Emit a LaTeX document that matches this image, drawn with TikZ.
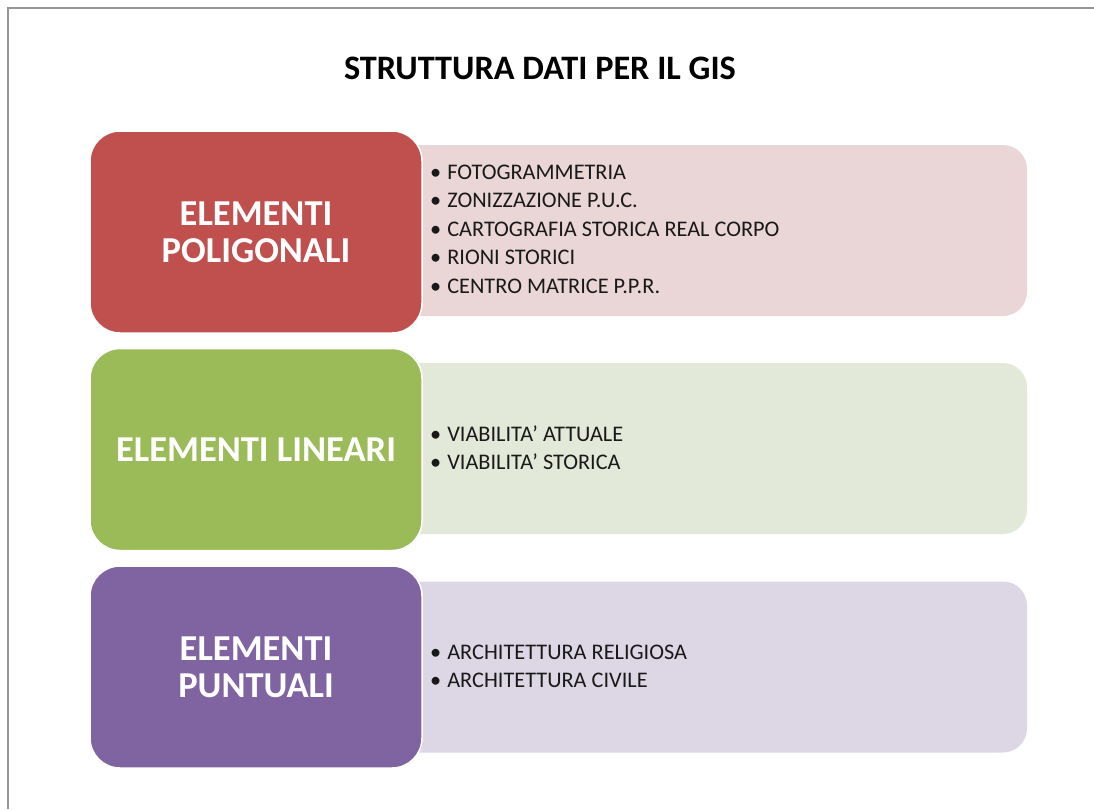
\documentclass[tikz,border=0pt]{standalone}
\usepackage{fontspec}
\setmainfont{Carlito}
\definecolor{rossoGis}{HTML}{C0504D}
\definecolor{verdeGis}{HTML}{9BBB59}
\definecolor{violaGis}{HTML}{8064A2}
\definecolor{rosaChiaro}{RGB}{234,214,214}
\definecolor{verdeChiaro}{RGB}{227,233,217}
\definecolor{violaChiaro}{RGB}{221,215,229}
\definecolor{cornice}{RGB}{150,150,150}

\begin{document}
\begin{tikzpicture}[x=1pt, y=-1pt,
	categoria/.style={fill=#1, draw=white, line width=1.5pt, rounded corners=30pt,
		minimum width=332pt, minimum height=202pt, inner sep=0pt,
		text=white, align=center, font=\fontsize{36.5}{37}\selectfont\bfseries},
	sfondo/.style={fill=#1, rounded corners=24pt, minimum width=687pt,
		minimum height=171pt, inner sep=0pt},
	elenco/.style={anchor=west, align=left, inner sep=0pt, text=black!90,
		font=\fontsize{22.3}{28.5}\selectfont}]
		%%%%% START %%%%%
		
		\useasboundingbox (0, 0) rectangle (1094, 809);
		\draw[cornice, line width=1.5pt] (8, 809) -- (8, 8) -- (1094, 8);
		
		\node[font=\fontsize{34.3}{36}\selectfont\bfseries] (titolo) at (540, 68) {STRUTTURA DATI PER IL GIS};
		
		% poligonali
		\node[sfondo=rosaChiaro] (sfPol) at (683.5, 230.5) {};
		\node[categoria=rossoGis] (pol) at (256, 232) {ELEMENTI\\POLIGONALI};
		\node[elenco] (listaPol) at (430, 229) {•\hspace{6pt}FOTOGRAMMETRIA\\
			•\hspace{6pt}ZONIZZAZIONE P.U.C.\\
			•\hspace{6pt}CARTOGRAFIA STORICA REAL CORPO\\
			•\hspace{6pt}RIONI STORICI\\
			•\hspace{6pt}CENTRO MATRICE P.P.R.};
		
		% lineari
		\node[sfondo=verdeChiaro] (sfLin) at (683.5, 448.5) {};
		\node[categoria=verdeGis] (lin) at (256, 449.5) {ELEMENTI LINEARI};
		\node[elenco] (listaLin) at (430, 447.5) {•\hspace{6pt}VIABILITA’ ATTUALE\\
			•\hspace{6pt}VIABILITA’ STORICA};
		
		% puntuali
		\node[sfondo=violaChiaro] (sfPun) at (683.5, 667) {};
		\node[categoria=violaGis] (pun) at (256, 667) {ELEMENTI\\PUNTUALI};
		\node[elenco] (listaPun) at (430, 666.5) {•\hspace{6pt}ARCHITETTURA RELIGIOSA\\
			•\hspace{6pt}ARCHITETTURA CIVILE};
		
		%%%%% END %%%%%
\end{tikzpicture}
\end{document}
